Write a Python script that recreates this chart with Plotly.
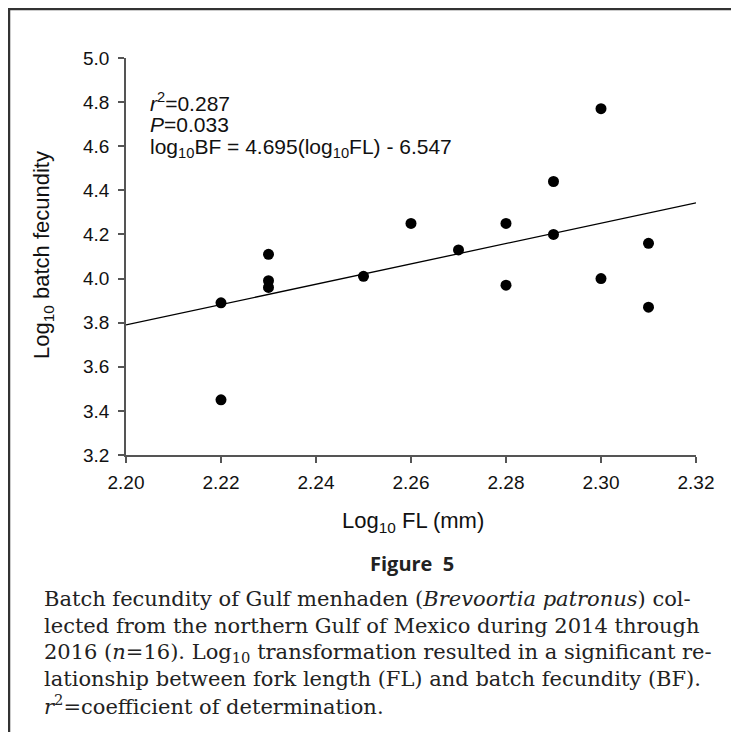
import plotly.graph_objects as go

# ---- data ----
log_fl = [2.22, 2.22, 2.23, 2.23, 2.23, 2.25, 2.26, 2.27, 2.28, 2.28, 2.29, 2.29, 2.30, 2.30, 2.31, 2.31]
log_bf = [3.89, 3.45, 4.11, 3.99, 3.96, 4.01, 4.25, 4.13, 4.25, 3.97, 4.44, 4.20, 4.77, 4.00, 4.16, 3.87]
fit_x = [2.20, 2.32]
fit_y = [3.79, 4.343]
x_ticks = [2.20, 2.22, 2.24, 2.26, 2.28, 2.30, 2.32]
x_tick_labels = ["2.20", "2.22", "2.24", "2.26", "2.28", "2.30", "2.32"]
y_ticks = [3.2, 3.4, 3.6, 3.8, 4.0, 4.2, 4.4, 4.6, 4.8, 5.0]
y_tick_labels = ["3.2", "3.4", "3.6", "3.8", "4.0", "4.2", "4.4", "4.6", "4.8", "5.0"]
stats_lines = ["<i>r</i><sup>2</sup>=0.287", "<i>P</i>=0.033",
               "log<sub>10</sub>BF = 4.695(log<sub>10</sub>FL) - 6.547"]
caption_lines = [
    "Batch fecundity of Gulf menhaden (<i>Brevoortia patronus</i>) col-",
    "lected from the northern Gulf of Mexico during 2014 through",
    "2016 (<i>n</i>=16). Log<sub>10</sub> transformation resulted in a significant re-",
    "lationship between fork length (FL) and batch fecundity (BF).",
    "<i>r</i><sup>2</sup>=coefficient of determination.",
]

OFF = 8  # page body margin of the browser
W, H = 739 - 2 * OFF, 740 - 2 * OFF  # keep the page inside the window (no scrollbars)
L, R, T, B = 126 - OFF, 696 - OFF, 58 - OFF, 455 - OFF  # plot area in figure pixels


def px(xp):
    return (xp - OFF - L) / (R - L)


def py(yp):
    return (B - (yp - OFF)) / (B - T)


fig = go.Figure()
fig.add_trace(go.Scatter(x=fit_x, y=fit_y, mode="lines",
                         line=dict(color="black", width=1.3), showlegend=False, hoverinfo="skip"))
fig.add_trace(go.Scatter(x=log_fl, y=log_bf, mode="markers",
                         marker=dict(color="black", size=11), showlegend=False, cliponaxis=False))

axis_font = dict(family="Liberation Sans, Arial, sans-serif", size=19, color="#111")
fig.update_xaxes(range=[2.20, 2.32], tickvals=x_ticks, ticktext=x_tick_labels,
                 showline=True, linecolor="#555", linewidth=1.5, ticks="outside",
                 ticklen=6, tickcolor="#555", tickwidth=1.5, showgrid=False, zeroline=False,
                 tickfont=axis_font, ticklabelstandoff=3)
fig.update_yaxes(range=[3.2, 5.0], tickvals=y_ticks, ticktext=y_tick_labels,
                 showline=True, linecolor="#555", linewidth=1.5, ticks="outside",
                 ticklen=6, tickcolor="#555", tickwidth=1.5, showgrid=False, zeroline=False,
                 tickfont=axis_font, ticklabelstandoff=5)

ann = []
for t, yy in zip(stats_lines, [102, 125, 148]):
    ann.append(dict(text=t, xref="paper", yref="paper", x=px(148), y=py(yy),
                    xanchor="left", yanchor="middle", showarrow=False,
                    font=dict(family="Liberation Sans, Arial, sans-serif", size=21, color="#111")))
ann.append(dict(text="Log<sub>10</sub> batch fecundity", xref="paper", yref="paper",
                x=px(43), y=py(255), textangle=-90, showarrow=False,
                xanchor="center", yanchor="middle",
                font=dict(family="Liberation Sans, Arial, sans-serif", size=22, color="#111")))
ann.append(dict(text="Log<sub>10</sub> FL (mm)", xref="paper", yref="paper",
                x=px(413), y=py(522), showarrow=False, xanchor="center", yanchor="middle",
                font=dict(family="Liberation Sans, Arial, sans-serif", size=22, color="#111")))
ann.append(dict(text="<b>Figure  5</b>", xref="paper", yref="paper",
                x=px(412), y=py(563), showarrow=False, xanchor="center", yanchor="middle",
                font=dict(family="Open Sans, sans-serif", size=20, color="#222")))
for t, yy in zip(caption_lines, [599, 626, 653, 679, 705]):
    ann.append(dict(text=t, xref="paper", yref="paper", x=px(42), y=py(yy),
                    xanchor="left", yanchor="middle", showarrow=False,
                    font=dict(family="DejaVu Serif, serif", size=21, color="#222")))

shapes = [
    dict(type="line", xref="paper", yref="paper", x0=px(9), x1=px(9), y0=py(9), y1=py(740),
         line=dict(color="#333", width=2.5)),
    dict(type="line", xref="paper", yref="paper", x0=px(8), x1=px(739), y0=py(9), y1=py(9),
         line=dict(color="#333", width=2.5)),
]

fig.update_layout(width=W, height=H, margin=dict(l=L, r=W - R, t=T, b=H - B),
                  paper_bgcolor="white", plot_bgcolor="white",
                  annotations=ann, shapes=shapes, showlegend=False)
fig.write_html("out.html")
